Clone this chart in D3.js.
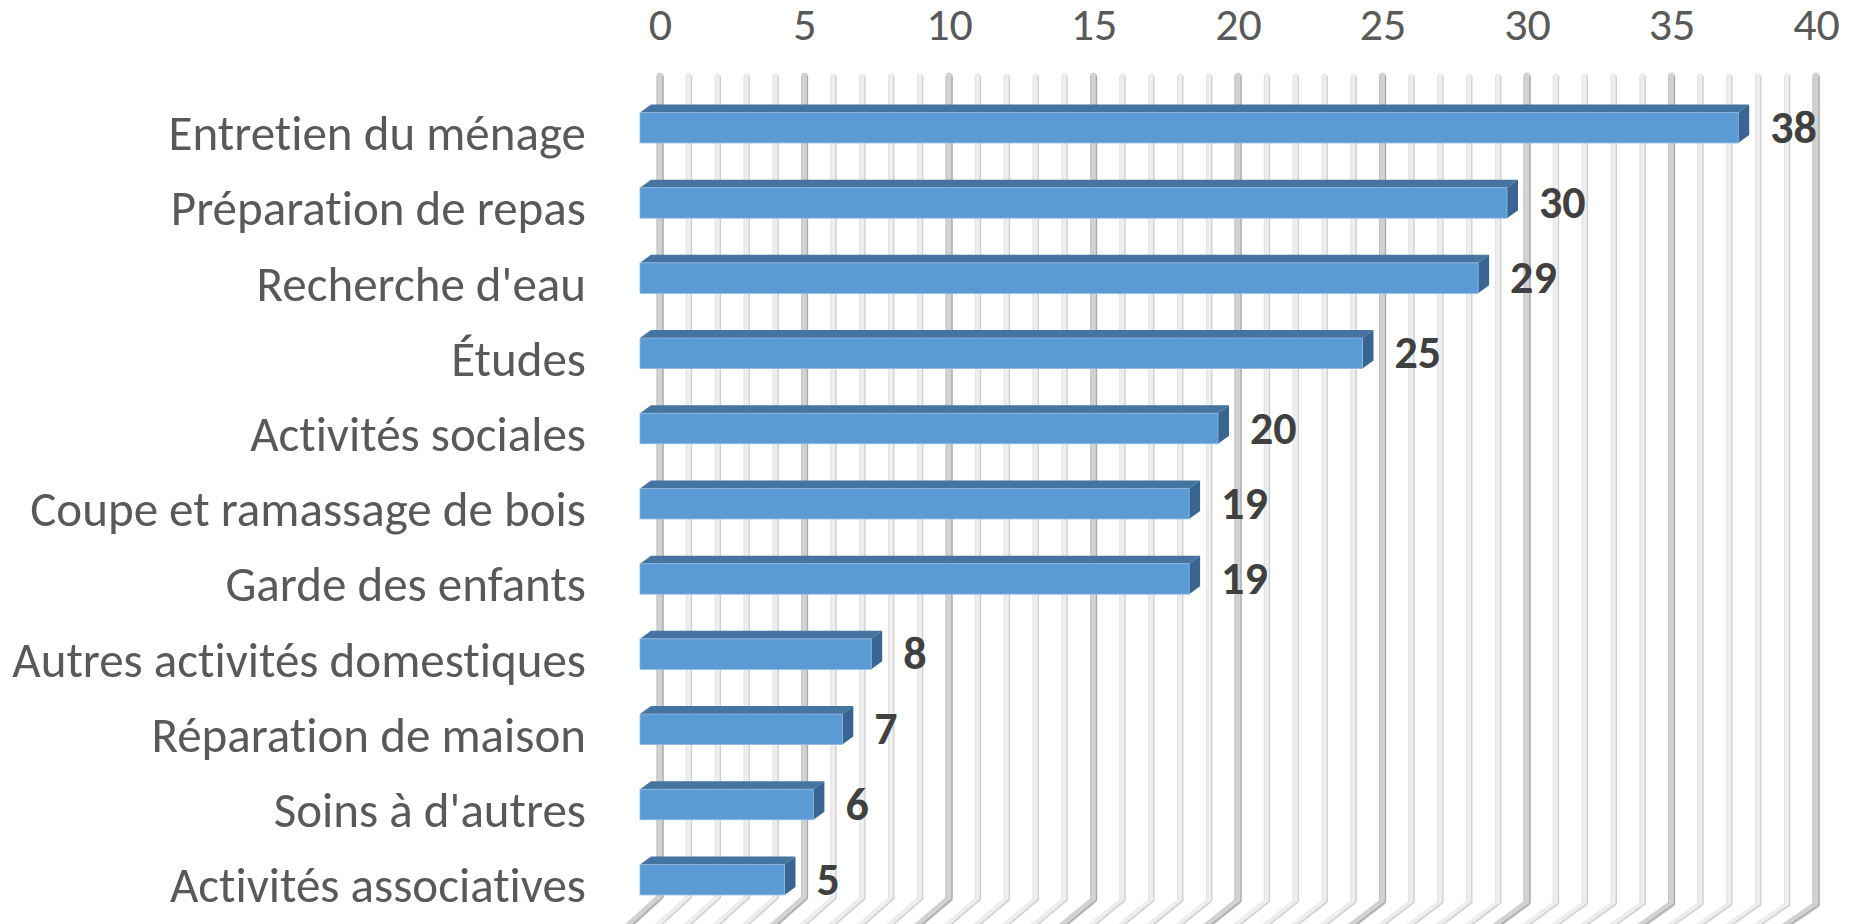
<!DOCTYPE html>
<html>
<head>
<meta charset="utf-8">
<script src="https://cdn.jsdelivr.net/npm/d3@7"></script>
<style>
  html, body { margin: 0; padding: 0; background: #ffffff; }
  svg { display: block; }
  text { font-variant-ligatures: none; font-feature-settings: "liga" 0, "clig" 0; }
</style>
</head>
<body>
<svg id="chart" width="1850" height="924"></svg>
<script>
const categories = [
  "Entretien du ménage",
  "Préparation de repas",
  "Recherche d'eau",
  "Études",
  "Activités sociales",
  "Coupe et ramassage de bois",
  "Garde des enfants",
  "Autres activités domestiques",
  "Réparation de maison",
  "Soins à d'autres",
  "Activités associatives"
];
const values = [38, 30, 29, 25, 20, 19, 19, 8, 7, 6, 5];
const tickValues = [0, 5, 10, 15, 20, 25, 30, 35, 40];

const FONT = "Carlito, Lato, 'Open Sans', sans-serif";
const svg = d3.select("#chart");

const x = d3.scaleLinear().domain([0, 40]).range([640, 1796]);
const y = d3.scalePoint().domain(categories).range([127.7, 879.7]);

// 3D offsets
const wallDx = 20;          // back wall offset
const depthDx = 11, depthDy = 8; // bar depth
const barH = 30.5;

// Gridlines (back wall + floor)
const gridVals = d3.range(0, 41);
const grid = svg.append("g");
gridVals.forEach(v => {
  const gx = x(v) + wallDx;
  const major = v % 5 === 0;
  const yTop = 73;
  const yBot = 897 + v * 0.2;
  const off = major ? 3 : 2.6;
  grid.append("path")
    .attr("d", `M${gx},${yTop + 3} L${gx},${yBot} L${gx - 34},${928}`)
    .attr("fill", "none")
    .attr("stroke", major ? "#d2d2d2" : "#eeeeee")
    .attr("stroke-width", major ? 7 : 6)
    .attr("stroke-linecap", "round")
    .attr("stroke-linejoin", "round");
  grid.append("path")
    .attr("d", `M${gx + off},${yTop + 3} L${gx + off},${yBot} L${gx - 31},${928}`)
    .attr("fill", "none")
    .attr("stroke", major ? "#a8a8a8" : "#cfcfcf")
    .attr("stroke-width", 1.3);
  grid.append("path")
    .attr("d", `M${gx - off},${yTop + 3} L${gx - off},${yBot}`)
    .attr("fill", "none")
    .attr("stroke", major ? "#c4c4c4" : "#e2e2e2")
    .attr("stroke-width", 1);
});

// Top axis tick labels
const axisTop = d3.axisTop(x).tickValues(tickValues).tickSize(0).tickPadding(0).tickFormat(d3.format("d"));
const gAxis = svg.append("g")
  .attr("transform", `translate(${wallDx},40)`)
  .call(axisTop);
gAxis.select(".domain").remove();
gAxis.selectAll("text")
  .attr("font-family", FONT)
  .attr("font-size", 46)
  .attr("fill", "#595959")
  .attr("dy", 0);

// Category labels
const axisLeft = d3.axisLeft(y).tickSize(0).tickPadding(0);
const gY = svg.append("g")
  .attr("transform", "translate(586,0)")
  .call(axisLeft);
gY.select(".domain").remove();
gY.selectAll("text")
  .attr("font-family", FONT)
  .attr("font-size", 49)
  .attr("fill", "#595959")
  .attr("dy", 0)
  .attr("y", 22);

// Bars
const bars = svg.append("g").selectAll("g.bar")
  .data(categories.map((c, i) => ({ c, v: values[i] })))
  .join("g").attr("class", "bar");

bars.append("path") // top face
  .attr("d", d => {
    const x0 = x(0), x1 = x(d.v), t = y(d.c) - barH / 2;
    return `M${x0},${t} L${x0 + depthDx},${t - depthDy} L${x1 + depthDx},${t - depthDy} L${x1},${t} Z`;
  })
  .attr("fill", "#44749f");

bars.append("path") // side face
  .attr("d", d => {
    const x1 = x(d.v), t = y(d.c) - barH / 2, b = y(d.c) + barH / 2;
    return `M${x1},${t} L${x1 + depthDx},${t - depthDy} L${x1 + depthDx},${b - depthDy} L${x1},${b} Z`;
  })
  .attr("fill", "#386591");

bars.append("rect") // front face
  .attr("x", x(0))
  .attr("y", d => y(d.c) - barH / 2)
  .attr("width", d => x(d.v) - x(0))
  .attr("height", barH)
  .attr("fill", "#5b9bd5")
  .attr("stroke", "#8fb8e0")
  .attr("stroke-width", 0.8);

// Value labels
bars.append("text")
  .attr("x", d => x(d.v) + 32)
  .attr("y", d => y(d.c) + 15)
  .attr("font-family", FONT)
  .attr("font-weight", "bold")
  .attr("font-size", 46)
  .attr("fill", "#404040")
  .text(d => d.v);
</script>
</body>
</html>
